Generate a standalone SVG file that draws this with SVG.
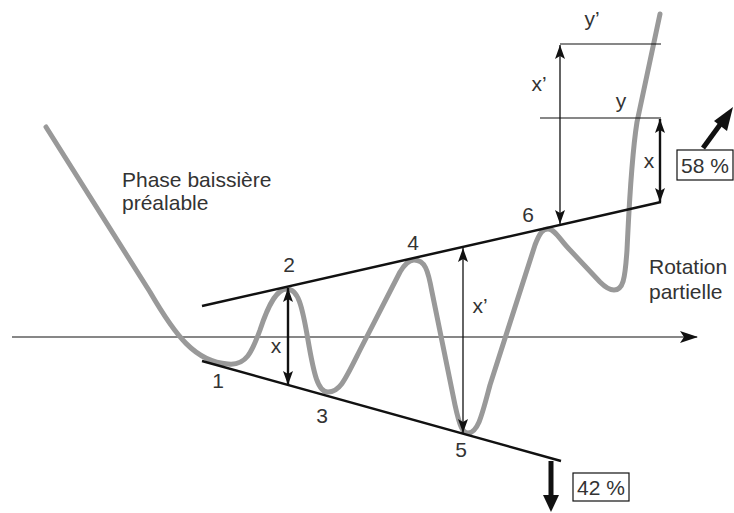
<svg xmlns="http://www.w3.org/2000/svg" width="734" height="513" viewBox="0 0 734 513">
<defs>
<marker id="ah" viewBox="0 0 14 10" refX="14" refY="5" markerWidth="14" markerHeight="10" markerUnits="userSpaceOnUse" orient="auto-start-reverse">
<path d="M0,0 L14,5 L0,10 L3,5 z" fill="#111"/>
</marker>
<marker id="axh" viewBox="0 0 18 12" refX="17" refY="6" markerWidth="18" markerHeight="12" markerUnits="userSpaceOnUse" orient="auto">
<path d="M0,0 L18,6 L0,12 L4,6 z" fill="#111"/>
</marker>
</defs>
<style>
text{font-family:"Liberation Sans",Arial,sans-serif;font-size:21px;fill:#333}
.trend{stroke:#111;stroke-width:2.5;fill:none}
.thin{stroke:#111;stroke-width:1.2;fill:none}
.dim{stroke:#111;stroke-width:1.3;fill:none;marker-start:url(#ah);marker-end:url(#ah)}
.dimb{stroke:#111;stroke-width:2.4;fill:none;marker-start:url(#ah);marker-end:url(#ah)}
.price{stroke:#999;stroke-width:5;fill:none;stroke-linecap:round;stroke-linejoin:round}
.box{fill:#fff;stroke:#111;stroke-width:1.2}
</style>
<rect width="734" height="513" fill="#fff"/>
<g id="axis">
<line class="thin" x1="12" y1="337" x2="697" y2="337" marker-end="url(#axh)"/>
</g>
<g id="price-curve">
<path class="price" d="M46,127 L150,292 C175,335 195,362 228,364 C246,366 252,352 260,330 C270,300 278,289 287,289 C298,289 302,305 308,340 C314,375 318,392 328,392 C340,392 345,380 360,350 L400,272 C406,262 410,260 414,260 C425,260 428,270 432,292 L455,405 C460,428 463,433 468,433 C478,433 482,415 490,385 L535,245 C540,232 543,229 548,229 C555,229 560,240 570,250 L600,282 C606,288 610,290 614,290 C623,290 625,280 627,250 C629,210 631,160 637,122 L660,14"/>
</g>
<g id="trendlines">
<line class="trend" x1="202" y1="306" x2="661" y2="202"/>
<line class="trend" x1="202" y1="361" x2="561" y2="461"/>
</g>
<g id="connectors">
<line class="dimb" x1="288" y1="288" x2="288" y2="385"/>
<line class="dim" x1="463" y1="248" x2="463" y2="433"/>
<line class="thin" x1="560" y1="44" x2="661" y2="44"/>
<line class="thin" x1="540" y1="118" x2="661" y2="118"/>
<line class="dim" x1="560" y1="45" x2="560" y2="224"/>
<line class="dimb" x1="660" y1="119" x2="660" y2="202"/>
<line stroke="#111" stroke-width="5" x1="703" y1="148" x2="722" y2="122"/>
<polygon points="733,107 727,131 714,121" fill="#111"/>
<line stroke="#111" stroke-width="5" x1="551" y1="461" x2="551" y2="497"/>
<polygon points="551,512 543,495 559,495" fill="#111"/>
</g>
<g id="labels">
<text x="218" y="388" text-anchor="middle">1</text>
<text x="289" y="272" text-anchor="middle">2</text>
<text x="322" y="423" text-anchor="middle">3</text>
<text x="413" y="250" text-anchor="middle">4</text>
<text x="461" y="457" text-anchor="middle">5</text>
<text x="528" y="222" text-anchor="middle">6</text>
<text x="276" y="353" text-anchor="middle">x</text>
<text x="480" y="313" text-anchor="middle">x’</text>
<text x="539" y="91" text-anchor="middle">x’</text>
<text x="649" y="168" text-anchor="middle">x</text>
<text x="592" y="26" text-anchor="middle">y’</text>
<text x="621" y="108" text-anchor="middle">y</text>
<text x="122" y="187">Phase baissière</text>
<text x="122" y="210">préalable</text>
<text x="649" y="274">Rotation</text>
<text x="649" y="299">partielle</text>
</g>
<g id="box58">
<rect class="box" x="677" y="150" width="56" height="30"/>
<text x="705" y="173" text-anchor="middle">58 %</text>
</g>
<g id="box42">
<rect class="box" x="573" y="473" width="56" height="28"/>
<text x="601" y="495" text-anchor="middle">42 %</text>
</g>
</svg>
